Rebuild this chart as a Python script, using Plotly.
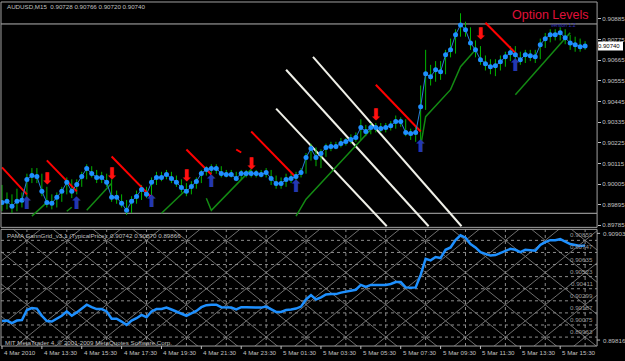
import plotly.graph_objects as go

W, H = 625, 361

# ---------------- data ----------------
close = [0.89907, 0.89913, 0.89886, 0.89913, 0.89918, 0.90029, 0.90051, 0.90045, 0.89966, 0.89907,
         0.89902, 0.89934, 0.89966, 0.90014, 0.89966, 0.90003, 0.90045, 0.90088, 0.90061, 0.90040,
         0.90040, 0.90014, 0.89934, 0.89934, 0.89902, 0.89865, 0.89913, 0.89939, 0.89976, 0.89950,
         0.90014, 0.90040, 0.90040, 0.90056, 0.90035, 0.90014, 0.89987, 0.89966, 0.89992, 0.90019,
         0.90061, 0.90083, 0.90088, 0.90088, 0.90061, 0.90056, 0.90056, 0.90035, 0.90061, 0.90061,
         0.90061, 0.90061, 0.90056, 0.90067, 0.90035, 0.90008, 0.90008, 0.90029, 0.90035, 0.90045,
         0.90067, 0.90146, 0.90194, 0.90146, 0.90168, 0.90200, 0.90205, 0.90205, 0.90221, 0.90231,
         0.90242, 0.90253, 0.90306, 0.90285, 0.90306, 0.90306, 0.90301, 0.90306, 0.90316, 0.90338,
         0.90338, 0.90279, 0.90274, 0.90279, 0.90417, 0.90593, 0.90577, 0.90614, 0.90603, 0.90694,
         0.90720, 0.90800, 0.90853, 0.90827, 0.90757, 0.90720, 0.90667, 0.90646, 0.90630, 0.90635,
         0.90656, 0.90683, 0.90704, 0.90694, 0.90667, 0.90694, 0.90688, 0.90683, 0.90747, 0.90779,
         0.90800, 0.90800, 0.90811, 0.90784, 0.90757, 0.90747, 0.90736, 0.90740]
high = [0.90000, 0.89960, 0.89950, 0.89980, 0.89960, 0.90060, 0.90090, 0.90090, 0.90060, 0.89990,
        0.89950, 0.89960, 0.89990, 0.90040, 0.90030, 0.90030, 0.90070, 0.90110, 0.90100, 0.90080,
        0.90070, 0.90060, 0.90030, 0.89970, 0.89950, 0.89920, 0.89940, 0.89970, 0.90000, 0.89990,
        0.90040, 0.90070, 0.90070, 0.90080, 0.90070, 0.90050, 0.90030, 0.90010, 0.90020, 0.90040,
        0.90080, 0.90100, 0.90110, 0.90110, 0.90100, 0.90080, 0.90080, 0.90070, 0.90080, 0.90080,
        0.90080, 0.90080, 0.90080, 0.90090, 0.90080, 0.90050, 0.90040, 0.90060, 0.90070, 0.90070,
        0.90090, 0.90170, 0.90220, 0.90200, 0.90190, 0.90220, 0.90230, 0.90230, 0.90250, 0.90250,
        0.90270, 0.90280, 0.90350, 0.90320, 0.90330, 0.90330, 0.90330, 0.90330, 0.90340, 0.90370,
        0.90360, 0.90350, 0.90300, 0.90310, 0.90530, 0.90720, 0.90640, 0.90660, 0.90660, 0.90720,
        0.90780, 0.90830, 0.90915, 0.90870, 0.90840, 0.90770, 0.90740, 0.90690, 0.90670, 0.90670,
        0.90690, 0.90710, 0.90740, 0.90740, 0.90710, 0.90720, 0.90720, 0.90720, 0.90780, 0.90810,
        0.90830, 0.90830, 0.90840, 0.90830, 0.90800, 0.90790, 0.90780, 0.90766]
low = [0.89860, 0.89870, 0.89850, 0.89860, 0.89880, 0.89900, 0.90010, 0.90010, 0.89940, 0.89880,
       0.89870, 0.89880, 0.89910, 0.89950, 0.89930, 0.89950, 0.89990, 0.90030, 0.90040, 0.90010,
       0.90010, 0.89990, 0.89910, 0.89900, 0.89880, 0.89840, 0.89850, 0.89900, 0.89920, 0.89930,
       0.89940, 0.90000, 0.90020, 0.90030, 0.90010, 0.89990, 0.89960, 0.89940, 0.89950, 0.89980,
       0.90010, 0.90050, 0.90060, 0.90060, 0.90040, 0.90040, 0.90040, 0.90020, 0.90030, 0.90040,
       0.90040, 0.90040, 0.90040, 0.90040, 0.90000, 0.89980, 0.89980, 0.89990, 0.90010, 0.90020,
       0.90040, 0.90060, 0.90130, 0.90100, 0.90090, 0.90150, 0.90180, 0.90190, 0.90200, 0.90210,
       0.90220, 0.90230, 0.90240, 0.90260, 0.90270, 0.90280, 0.90280, 0.90280, 0.90290, 0.90300,
       0.90310, 0.90260, 0.90240, 0.90230, 0.90240, 0.90400, 0.90530, 0.90550, 0.90560, 0.90590,
       0.90680, 0.90700, 0.90790, 0.90790, 0.90720, 0.90680, 0.90640, 0.90610, 0.90590, 0.90580,
       0.90610, 0.90630, 0.90660, 0.90660, 0.90640, 0.90650, 0.90660, 0.90650, 0.90670, 0.90730,
       0.90760, 0.90770, 0.90770, 0.90750, 0.90720, 0.90710, 0.90710, 0.90720]

# trailing (green) line segments: (bar, price) points
green_segments = [
    [(6, 0.89834), (9, 0.89907)],
    [(13, 0.89860), (14, 0.89881)],
    [(17, 0.89865), (22, 0.90009)],
    [(32, 0.89849), (37, 0.89976)],
    [(41, 0.89929), (42, 0.89865), (50, 0.90083)],
    [(59, 0.89834), (61, 0.89924), (74, 0.90295)],
    [(84, 0.90205), (85, 0.90364), (90, 0.90508), (92, 0.90630), (95, 0.90720)],
    [(103, 0.90481), (114, 0.90811)],
]
# red descending lines
red_segments = [
    [(0, 0.90094), (5, 0.89950)],
    [(9, 0.90131), (15, 0.89966)],
    [(22, 0.90152), (30, 0.89934)],
    [(37, 0.90189), (42, 0.90056)],
    [(47, 0.90189), (48, 0.90173)],
    [(50, 0.90285), (59, 0.90040)],
    [(75, 0.90534), (84, 0.90285)],
    [(97, 0.90864), (103, 0.90704)],
]
# white diagonal lines
white_segments = [
    [(55.0, 0.90407), (77.2, 0.89780)],
    [(57.0, 0.90614), (85.6, 0.89780)],
    [(62.4, 0.90683), (92.2, 0.89780)],
]
sell_bars = [9, 22, 37, 50, 75, 96]
sell_price = [0.90029, 0.90051, 0.90045, 0.90104, 0.90365, 0.90800]
buy_bars = [5, 15, 30, 42, 59, 84, 103]
buy_price = [0.89892, 0.89897, 0.89907, 0.90014, 0.89987, 0.90200, 0.90630]

level_hi = 0.90858
level_lo = 0.89849

price_ticks = [0.90885, 0.90775, 0.90665, 0.90555, 0.90445, 0.90335, 0.90225,
               0.90115, 0.90005, 0.89895, 0.89785]
current_price = 0.90740

grid_levels = [0.89851, 0.89963, 0.90075, 0.90187, 0.90299, 0.90411, 0.90523,
               0.90635, 0.90747, 0.90859]
lower_ticks = [0.90903, 0.89816]
gann_top = 0.90859
gann_anchor_bar = 5
gann_step_bars = 8
gann_slope = 0.000373       # price per bar of the grid diagonals

time_bars = [0, 8, 16, 24, 32, 40, 48, 56, 64, 72, 80, 88, 96, 104, 112]
time_labels = ["4 Mar 2010", "4 Mar 13:30", "4 Mar 15:30", "4 Mar 17:30", "4 Mar 19:30",
               "4 Mar 21:30", "4 Mar 23:30", "5 Mar 01:30", "5 Mar 03:30", "5 Mar 05:30",
               "5 Mar 07:30", "5 Mar 09:30", "5 Mar 11:30", "5 Mar 13:30", "5 Mar 15:30"]

title = "AUDUSD,M15  0.90728 0.90766 0.90720 0.90740"
sub_title = "PAMA GannGrid_v3.1 (TypicalPrice): 0.90742 0.90870 0.89866"

# ---------------- layout geometry ----------------
def fy(py):
    return 1 - py / H

def fx(px):
    return px / W

X0, X1 = 1, 599            # plot area pixels
TOP0, TOP1 = 2, 228        # top pane pixels
BOT0, BOT1 = 230, 347      # lower pane pixels
xr = [-0.2, -0.2 + (X1 - X0) / 5.0]
top_range = [0.89774, 0.90975]
grid_range = [0.89880, 0.90961]
line_range = [0.89632, 0.90919]

FONT = "Liberation Sans"
FS = 6.2
SILVER = "#c0c0c0"
n = len(close)
bars = list(range(n))

fig = go.Figure()

# ---------- lower pane grid ----------
gx, gy = [], []
k = -6
while gann_anchor_bar + k * gann_step_bars < xr[1] + 40:
    b = gann_anchor_bar + k * gann_step_bars
    for sgn in (1, -1):
        gx += [b - 40, b + 40, None]
        gy += [gann_top + sgn * 40 * gann_slope, gann_top - sgn * 40 * gann_slope, None]
    k += 1
fig.add_trace(go.Scatter(x=gx, y=gy, mode="lines", line=dict(color="#6e6e6e", width=1),
                         xaxis="x2", yaxis="y2"))
vx, vy = [], []
b = gann_anchor_bar
while b < xr[1]:
    vx += [b, b, None]
    vy += [grid_range[0], grid_range[1], None]
    b += gann_step_bars
fig.add_trace(go.Scatter(x=vx, y=vy, mode="lines",
                         line=dict(color="#8c8c8c", width=1, dash="dot"), xaxis="x2", yaxis="y2"))
for lv in grid_levels:
    fig.add_trace(go.Scatter(x=xr, y=[lv, lv], mode="lines",
                             line=dict(color="#8c8c8c", width=1, dash="dot"),
                             xaxis="x2", yaxis="y2"))

fig.add_trace(go.Scatter(x=bars, y=close, mode="lines",
                         line=dict(color="#1e90ff", width=2.5), xaxis="x2", yaxis="y3"))

# ---------- top pane ----------
for lv in (level_hi, level_lo):
    fig.add_trace(go.Scatter(x=xr, y=[lv, lv], mode="lines",
                             line=dict(color="#b4b4b4", width=1), xaxis="x", yaxis="y"))

for seg in white_segments:
    fig.add_trace(go.Scatter(x=[p[0] for p in seg], y=[p[1] for p in seg], mode="lines",
                             line=dict(color="#f0f0e8", width=2), xaxis="x", yaxis="y"))

bx, by = [], []
for i in bars:
    bx += [i, i, None]
    by += [low[i], high[i], None]
fig.add_trace(go.Scatter(x=bx, y=by, mode="lines", line=dict(color="#00b400", width=1),
                         xaxis="x", yaxis="y"))

for seg in green_segments:
    fig.add_trace(go.Scatter(x=[p[0] for p in seg], y=[p[1] for p in seg], mode="lines",
                             line=dict(color="#138a13", width=1.5), xaxis="x", yaxis="y"))

for seg in red_segments:
    fig.add_trace(go.Scatter(x=[p[0] for p in seg], y=[p[1] for p in seg], mode="lines",
                             line=dict(color="#ff0000", width=2), xaxis="x", yaxis="y"))

fig.add_trace(go.Scatter(x=bars, y=close, mode="lines+markers",
                         line=dict(color="#2a7fd8", width=1),
                         marker=dict(color="#1e90ff", size=5), xaxis="x", yaxis="y"))

fig.add_trace(go.Scatter(x=sell_bars, y=sell_price, mode="text", text=["⬇"] * len(sell_bars),
                         textfont=dict(color="#ff1010", size=16, family="DejaVu Sans"),
                         xaxis="x", yaxis="y"))
fig.add_trace(go.Scatter(x=buy_bars, y=buy_price, mode="text", text=["⬆"] * len(buy_bars),
                         textfont=dict(color="#2438b0", size=17, family="DejaVu Sans"),
                         xaxis="x", yaxis="y"))

ax_common = dict(showgrid=False, zeroline=False, showline=False, fixedrange=True)
fig.update_layout(
    width=W, height=H, margin=dict(l=0, r=0, t=0, b=0),
    paper_bgcolor="black", plot_bgcolor="black", showlegend=False,
    xaxis=dict(domain=[fx(X0), fx(X1)], range=xr, showticklabels=False, anchor="y", **ax_common),
    xaxis2=dict(domain=[fx(X0), fx(X1)], range=xr, showticklabels=False, anchor="y2",
                matches="x", **ax_common),
    yaxis=dict(domain=[fy(TOP1), fy(TOP0)], range=top_range, side="right", anchor="x",
               tickvals=price_ticks, ticktext=[f"{v:.5f}" for v in price_ticks],
               ticks="outside", ticklen=3, tickcolor=SILVER,
               tickfont=dict(family=FONT, size=FS, color=SILVER), **ax_common),
    yaxis2=dict(domain=[fy(BOT1), fy(BOT0)], range=grid_range, side="right", anchor="x2",
                showticklabels=False, **ax_common),
    yaxis3=dict(range=line_range, overlaying="y2", anchor="x2", side="right",
                showticklabels=False, **ax_common),
)

shapes = []
for (a, b2) in ((TOP0, TOP1), (BOT0, BOT1)):
    shapes.append(dict(type="rect", xref="paper", yref="paper", x0=fx(X0), x1=fx(X1),
                       y0=fy(b2), y1=fy(a), line=dict(color="#a0a0a0", width=1)))
for tb in time_bars:
    shapes.append(dict(type="line", xref="x2", yref="paper", x0=tb, x1=tb,
                       y0=fy(BOT1), y1=fy(BOT1 + 3), line=dict(color=SILVER, width=1)))
for py in (234, 341):
    shapes.append(dict(type="line", xref="paper", yref="paper", x0=fx(X1), x1=fx(X1 + 3),
                       y0=fy(py), y1=fy(py), line=dict(color=SILVER, width=1)))
shapes.append(dict(type="rect", xref="paper", yref="y", x0=fx(X1 + 1), x1=fx(625),
                   y0=current_price - 0.00024, y1=current_price + 0.00024,
                   fillcolor="white", line=dict(width=0)))
fig.update_layout(shapes=shapes)

ann = []
def txt(t, x, y, xref="paper", yref="paper", xa="left", color=SILVER, size=FS, family=FONT, ya="middle"):
    ann.append(dict(text=t, x=x, y=y, xref=xref, yref=yref, xanchor=xa, yanchor=ya,
                    showarrow=False, font=dict(family=family, size=size, color=color)))

txt(title, fx(5), fy(7))
txt(sub_title, fx(5), fy(236))
txt("MIT MetaTrader 4, © 2001-2009 MetaQuotes Software Corp.", fx(3), fy(343))
txt("Option Levels", fx(552), fy(15), xa="center", color="#e0103a", size=12.5)
txt("version 1.2", fx(565), fy(25), xa="center", color="#3030c0", size=5)
txt(f"{current_price:.5f}", fx(624), current_price, yref="y", color="black", xa="right", size=6)
for lv, py in zip(lower_ticks, (234, 341)):
    txt(f"{lv:.5f}", fx(603), fy(py))
for lv in grid_levels[1:]:
    txt(f"{lv:.5f}", fx(597), lv, yref="y2", xa="right", color="#9a9a9a", ya="bottom")
for tb, tl in zip(time_bars, time_labels):
    txt(tl, tb, fy(353), xref="x2")
fig.update_layout(annotations=ann)

fig.write_html("out.html")
